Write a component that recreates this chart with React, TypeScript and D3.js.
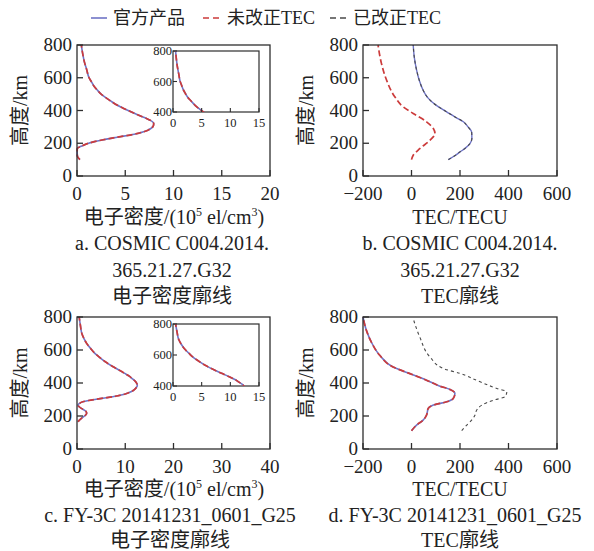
import React from 'react';
import * as d3 from 'd3';

const FONT = '"Liberation Serif", "Times New Roman", "Noto Sans CJK SC", serif';
const BLUE = '#6f74c6';
const RED = '#cc3b3b';
const BLACK = '#4a4a4a';
const FRAME = '#2e2e2e';

// legend
const seriesNames = ['官方产品', '未改正TEC', '已改正TEC'];

// a. COSMIC electron density (all three series coincide)
const altA = [100, 120, 140, 160, 170, 180, 190, 200, 210, 220, 230, 240, 250, 260, 270, 280, 290, 300, 310, 320, 330, 340, 350, 360, 380, 400, 420, 440, 460, 480, 500, 525, 550, 575, 600, 650, 700, 750, 800];
const densA = [0.3, 0.05, 0.02, 0.02, 0.05, 0.35, 0.75, 1.2, 1.8, 2.6, 3.5, 4.5, 5.5, 6.3, 6.9, 7.35, 7.65, 7.85, 7.93, 7.95, 7.85, 7.6, 7.25, 6.85, 6.05, 5.3, 4.6, 3.95, 3.45, 2.95, 2.5, 2.1, 1.75, 1.5, 1.25, 1.0, 0.75, 0.58, 0.45];

// b. COSMIC TEC
const altBOfficial = [100, 106, 125, 147, 170, 198, 230, 269, 300, 331, 360, 392, 410, 430, 450, 480, 524, 580, 647, 720, 800];
const tecBOfficial = [152, 159, 180, 200, 222, 241, 249, 248, 233, 214, 180, 145, 125, 104, 86, 66, 48, 33, 21, 12, 7];
const altBUncorr = [100, 127, 167, 218, 259, 290, 331, 382, 422, 484, 586, 688, 800];
const tecBUncorr = [0, 7, 34, 76, 97, 90, 62, 7, -34, -69, -103, -124, -138];

// c. FY-3C electron density
const altC = [165, 175, 185, 195, 206, 216, 226, 236, 246, 256, 266, 276, 286, 294, 302, 311, 321, 333, 347, 360, 373, 385, 397, 410, 425, 440, 458, 480, 500, 530, 555, 580, 610, 640, 666, 700, 750, 800];
const densC = [0.2, 0.5, 0.9, 1.3, 1.8, 2.0, 1.9, 1.5, 0.9, 0.45, 0.2, 0.5, 1.2, 2.4, 4.0, 6.1, 8.2, 10.0, 11.2, 11.9, 12.3, 12.5, 12.4, 12.1, 11.5, 10.9, 9.9, 8.6, 7.4, 5.8, 4.7, 3.7, 2.8, 2.0, 1.5, 1.0, 0.7, 0.45];

// d. FY-3C TEC
const altDOfficial = [111, 145, 175, 206, 246, 266, 286, 306, 337, 361, 381, 417, 457, 497, 568, 649, 719, 800];
const tecDOfficial = [0, 21, 48, 62, 69, 90, 145, 172, 179, 159, 117, 62, -7, -76, -131, -166, -186, -200];
const altDCorr = [111, 145, 175, 206, 236, 266, 296, 317, 347, 367, 407, 458, 488, 558, 679, 790];
const tecDCorr = [207, 228, 248, 262, 269, 290, 338, 386, 393, 352, 283, 200, 131, 76, 34, 7];

// ticks
const altTicks = [0, 200, 400, 600, 800];
const densTicksA = [0, 5, 10, 15, 20];
const densTicksC = [0, 10, 20, 30, 40];
const tecTicks = [-200, 0, 200, 400, 600];
const insetXTicks = [0, 5, 10, 15];
const insetYTicks = [400, 600, 800];

type Series = { xs: number[]; ys: number[]; color: string; dash?: string; width: number };

const fmt = (v: number) => (v < 0 ? '\u2212' + Math.abs(v) : String(v));

const zip = (xs: number[], ys: number[]) => xs.map((x, i) => [x, ys[i]] as [number, number]);

const Curves = ({ series, sx, sy, clip }: { series: Series[]; sx: any; sy: any; clip?: string }) => {
  const line = d3
    .line<[number, number]>()
    .x((d) => sx(d[0]))
    .y((d) => sy(d[1]))
    .curve(d3.curveMonotoneY);
  return (
    <g clipPath={clip ? `url(#${clip})` : undefined}>
      {series.map((s, i) => (
        <path key={i} d={line(zip(s.xs, s.ys)) || ''} fill="none" stroke={s.color} strokeWidth={s.width} strokeDasharray={s.dash} />
      ))}
    </g>
  );
};

const Panel = ({ id, left, right, top, bottom, xDomain, xTicks, series, inset }: any) => {
  const sx = d3.scaleLinear().domain(xDomain).range([left, right]);
  const sy = d3.scaleLinear().domain([0, 800]).range([bottom, top]);
  const tick = 6;
  let insetEl = null;
  if (inset) {
    const ix = d3.scaleLinear().domain([0, 15]).range([inset.left, inset.right]);
    const iy = d3.scaleLinear().domain([400, 800]).range([inset.bottom, inset.top]);
    insetEl = (
      <g>
        <clipPath id={id + '-inset'}>
          <rect x={inset.left} y={inset.top} width={inset.right - inset.left} height={inset.bottom - inset.top} />
        </clipPath>
        <rect x={inset.left} y={inset.top} width={inset.right - inset.left} height={inset.bottom - inset.top} fill="#fff" stroke={FRAME} strokeWidth={1.2} />
        <Curves series={series} sx={ix} sy={iy} clip={id + '-inset'} />
        {insetXTicks.map((t) => (
          <g key={'ix' + t}>
            <line x1={ix(t)} x2={ix(t)} y1={inset.bottom} y2={inset.bottom - 4} stroke={FRAME} strokeWidth={1.1} />
            <text x={ix(t)} y={inset.bottom + 15} textAnchor="middle" fontSize={12.5}>{t}</text>
          </g>
        ))}
        {insetYTicks.map((t) => (
          <g key={'iy' + t}>
            <line x1={inset.left} x2={inset.left + 4} y1={iy(t)} y2={iy(t)} stroke={FRAME} strokeWidth={1.1} />
            <text x={inset.left - 1} y={iy(t) + 4} textAnchor="end" fontSize={12.5}>{t}</text>
          </g>
        ))}
      </g>
    );
  }
  return (
    <g>
      <Curves series={series} sx={sx} sy={sy} />
      {insetEl}
      <rect x={left} y={top} width={right - left} height={bottom - top} fill="none" stroke={FRAME} strokeWidth={1.3} />
      {xTicks.map((t: number) => (
        <g key={'x' + t}>
          <line x1={sx(t)} x2={sx(t)} y1={bottom} y2={bottom - tick} stroke={FRAME} strokeWidth={1.3} />
          <text x={sx(t)} y={bottom + 24} textAnchor="middle" fontSize={19}>{fmt(t)}</text>
        </g>
      ))}
      {altTicks.map((t) => (
        <g key={'y' + t}>
          <line x1={left} x2={left + tick} y1={sy(t)} y2={sy(t)} stroke={FRAME} strokeWidth={1.3} />
          <text x={left - 5} y={sy(t) + 6} textAnchor="end" fontSize={19}>{t}</text>
        </g>
      ))}
      <text transform={`translate(${left - 50},${(top + bottom) / 2}) rotate(-90)`} textAnchor="middle" fontSize={20}>高度/km</text>
    </g>
  );
};

const DensTitle = ({ x, y }: { x: number; y: number }) => (
  <text x={x} y={y} textAnchor="middle" fontSize={20}>
    电子密度/(10<tspan fontSize={12} dy={-8}>5</tspan>
    <tspan dy={8}> el/cm</tspan>
    <tspan fontSize={12} dy={-8}>3</tspan>
    <tspan dy={8}>)</tspan>
  </text>
);

export default function App() {
  const densSeries = (xs: number[], ys: number[]): Series[] => [
    { xs, ys, color: BLUE, width: 1.6 },
    { xs, ys, color: RED, dash: '6,3', width: 1.7 },
  ];
  return (
    <svg width={594} height={551} style={{ display: 'block', position: 'absolute', left: 0, top: 0 }} fontFamily={FONT} fill="#222">
      <rect width={594} height={551} fill="#fff" />
      {/* legend */}
      <g fontSize={18}>
        <line x1={91} x2={107} y1={18} y2={18} stroke={BLUE} strokeWidth={1.6} />
        <text x={113} y={24}>{seriesNames[0]}</text>
        <line x1={203} x2={219} y1={18} y2={18} stroke={RED} strokeWidth={1.6} strokeDasharray="6,4" />
        <text x={227} y={24}>{seriesNames[1]}</text>
        <line x1={330} x2={346} y1={18} y2={18} stroke={BLACK} strokeWidth={1.6} strokeDasharray="6,4" />
        <text x={353} y={24}>{seriesNames[2]}</text>
      </g>

      <Panel id="a" left={77} right={270} top={45} bottom={176} xDomain={[0, 20]} xTicks={densTicksA}
        series={densSeries(densA, altA)}
        inset={{ left: 173, right: 259, top: 51, bottom: 112 }} />
      <Panel id="b" left={363} right={557} top={45} bottom={176} xDomain={[-200, 600]} xTicks={tecTicks}
        series={[
          { xs: tecBUncorr, ys: altBUncorr, color: RED, dash: '6,3', width: 1.7 },
          { xs: tecBOfficial, ys: altBOfficial, color: BLUE, width: 1.4 },
          { xs: tecBOfficial, ys: altBOfficial, color: BLACK, dash: '3,3', width: 1.1 },
        ]} />
      <Panel id="c" left={77} right={270} top={317} bottom={449} xDomain={[0, 40]} xTicks={densTicksC}
        series={densSeries(densC, altC)}
        inset={{ left: 173, right: 259, top: 324, bottom: 386 }} />
      <Panel id="d" left={363} right={557} top={317} bottom={449} xDomain={[-200, 600]} xTicks={tecTicks}
        series={[
          { xs: tecDCorr, ys: altDCorr, color: BLACK, dash: '3,3', width: 1.1 },
          { xs: tecDOfficial, ys: altDOfficial, color: BLUE, width: 1.6 },
          { xs: tecDOfficial, ys: altDOfficial, color: RED, dash: '6,3', width: 1.7 },
        ]} />

      {/* captions */}
      <g fontSize={20} textAnchor="middle">
        <DensTitle x={174} y={224} />
        <text x={460} y={224}>TEC/TECU</text>
        <text x={172} y={250}>a. COSMIC C004.2014.</text>
        <text x={172} y={277}>365.21.27.G32</text>
        <text x={172} y={303}>电子密度廓线</text>
        <text x={460} y={250}>b. COSMIC C004.2014.</text>
        <text x={460} y={277}>365.21.27.G32</text>
        <text x={460} y={303}>TEC廓线</text>

        <DensTitle x={174} y={496} />
        <text x={460} y={496}>TEC/TECU</text>
        <text x={170} y={522}>c. FY-3C 20141231_0601_G25</text>
        <text x={170} y={547}>电子密度廓线</text>
        <text x={455} y={522}>d. FY-3C 20141231_0601_G25</text>
        <text x={460} y={547}>TEC廓线</text>
      </g>
    </svg>
  );
}
